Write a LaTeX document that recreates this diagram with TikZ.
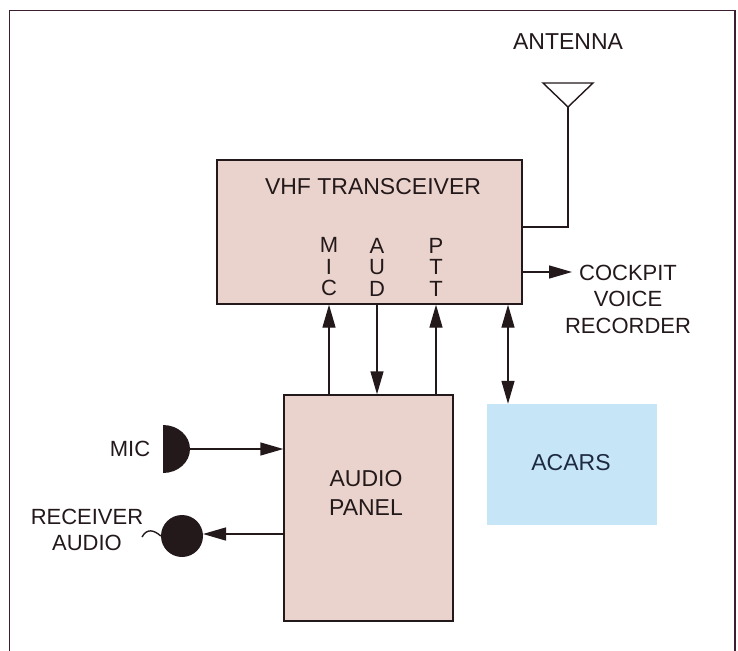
\documentclass[tikz,border=0pt]{standalone}
\usepackage{fontspec}
\setmainfont{Liberation Sans}
\usetikzlibrary{arrows.meta}
\definecolor{boxpink}{RGB}{234,211,204}
\definecolor{acarsblue}{RGB}{198,230,248}
\definecolor{ink}{RGB}{35,24,26}
\definecolor{framec}{RGB}{60,30,50}
\definecolor{navy}{RGB}{30,42,64}
\tikzset{
  blk/.style={draw=ink, line width=1.4pt, fill=boxpink, inner sep=0pt},
  lbl/.style={text=ink, font=\fontsize{23}{26}\selectfont, align=center, inner sep=0pt},
  conn/.style={draw=ink, line width=1.4pt},
  arr/.style={conn, -{Triangle[length=23pt,width=13pt]}},
  darr/.style={conn, {Triangle[length=23pt,width=13pt]}-{Triangle[length=23pt,width=13pt]}},
}
\begin{document}
\begin{tikzpicture}[x=1pt,y=-1pt]
\useasboundingbox (0,0) rectangle (738,650);
\draw[framec, line width=1.8pt] (9.5,10.5) rectangle (735,652);

% blocks
\node[blk, minimum width=305pt, minimum height=144pt] (vhf) at (369.5,232) {};
\node[blk, minimum width=169pt, minimum height=226pt] (aud) at (368.5,508) {};
\node[fill=acarsblue, inner sep=0pt, minimum width=170pt, minimum height=121pt] (acars) at (572,464.5) {};

% texts
\node[lbl] (vhft) at (373,187) {VHF TRANSCEIVER};
\node[lbl, font=\fontsize{22}{21.5}\selectfont] (micL) at (329,267) {M\\I\\C};
\node[lbl, font=\fontsize{22}{21.5}\selectfont] (audL) at (377,267) {A\\U\\D};
\node[lbl, font=\fontsize{22}{21.5}\selectfont] (pttL) at (436,267) {P\\T\\T};
\node[lbl, font=\fontsize{23}{29}\selectfont] (audt) at (366,493) {AUDIO\\PANEL};
\node[lbl, text=navy] (acarst) at (571,463) {ACARS};
\node[lbl] (antt) at (568,42) {ANTENNA};
\node[lbl, font=\fontsize{22}{26.5}\selectfont] (cvr) at (628,299) {COCKPIT\\VOICE\\RECORDER};
\node[lbl, font=\fontsize{22}{26}\selectfont] (mict) at (130,449) {MIC};
\node[lbl, font=\fontsize{22}{26}\selectfont] (rect) at (87,530) {RECEIVER\\AUDIO};

% antenna
\coordinate (ant) at (568,107);
\coordinate (antj) at (568,227);
\draw[ink, line width=1.4pt, line join=miter] (543,83) -- (593,83) -- (ant) -- cycle;
\draw[conn] (ant) -- (antj) -- (antj -| vhf.east);

% cockpit voice recorder
\coordinate (cvrs) at (522,272);
\coordinate (cvre) at (572,272);
\draw[arr] (cvrs) -- (cvre);

% vertical links
\draw[arr] (aud.north -| micL) -- (vhf.south -| micL);
\draw[arr] (vhf.south -| audL) -- (aud.north -| audL);
\draw[arr] (aud.north -| pttL) -- (vhf.south -| pttL);
\coordinate (dbl) at (508,300);
\draw[darr] (vhf.south -| dbl) -- (acars.north -| dbl);

% microphone
\fill[ink] (163,425) arc[start angle=90, end angle=-90, x radius=27pt, y radius=24pt] -- cycle;
\coordinate (mico) at (190,449);
\draw[arr] (mico) -- (mico -| aud.west);

% receiver audio (earphone)
\node[circle, fill=ink, minimum size=42pt, inner sep=0pt] (ear) at (182,536) {};
\coordinate (eari) at (203,534);
\draw[arr] (eari -| aud.west) -- (eari);
\draw[ink, line width=1.4pt] (142,537) .. controls (147,528) and (154,530) .. (ear.west);
\end{tikzpicture}
\end{document}
